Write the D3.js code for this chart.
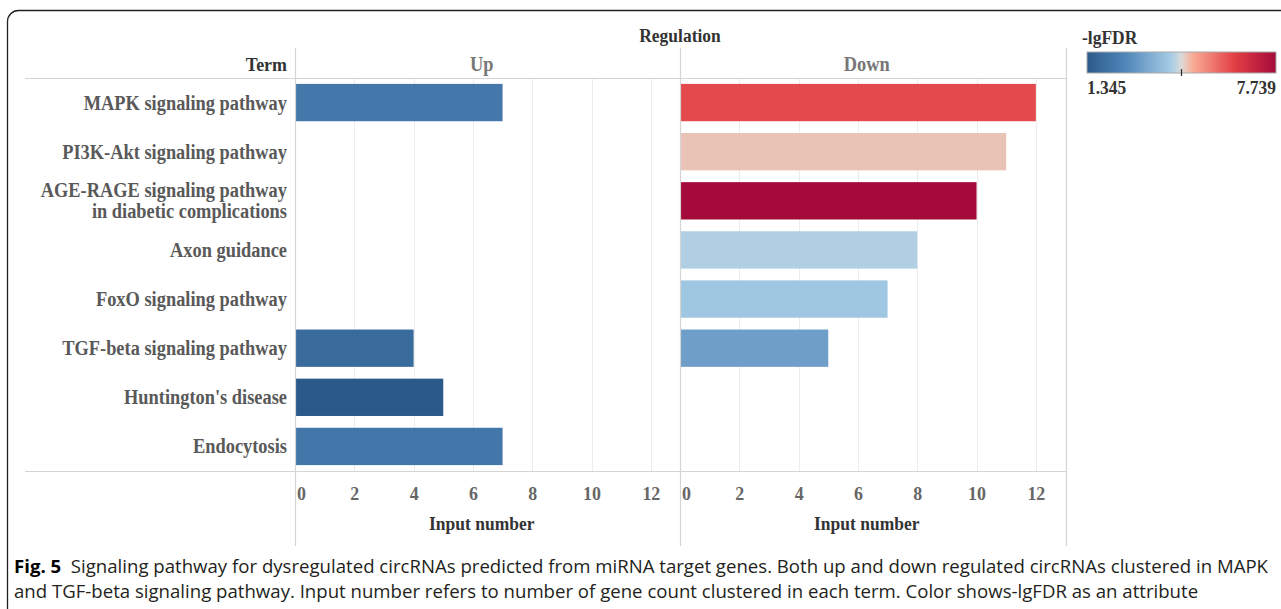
<!DOCTYPE html>
<html>
<head>
<meta charset="utf-8">
<script src="https://cdn.jsdelivr.net/npm/d3@7"></script>
<style>
  html, body { margin: 0; padding: 0; background: #fff; }
  svg { display: block; }
</style>
</head>
<body>
<svg id="chart" width="1281" height="609"></svg>
<script>
// ---------------- data ----------------
const terms = [
  "MAPK signaling pathway",
  "PI3K-Akt signaling pathway",
  "AGE-RAGE signaling pathway\nin diabetic complications",
  "Axon guidance",
  "FoxO signaling pathway",
  "TGF-beta signaling pathway",
  "Huntington's disease",
  "Endocytosis"
];
const panels = ["Up", "Down"];
const upCounts   = [7, null, null, null, null, 4, 5, 7];
const upFDR      = [2.24, null, null, null, null, 1.86, 1.345, 2.22];
const downCounts = [12, 11, 10, 8, 7, 5, null, null];
const downFDR    = [6.20, 4.73, 7.739, 4.28, 4.08, 3.20, null, null];
const xTicks = [0, 2, 4, 6, 8, 10, 12];
const fdrMin = 1.345, fdrMax = 7.739;
const legendTitle = "-lgFDR";
const captionBold = "Fig. 5";
const captionLine1 = "Signaling pathway for dysregulated circRNAs predicted from miRNA target genes. Both up and down regulated circRNAs clustered in MAPK";
const captionLine2 = "and TGF-beta signaling pathway. Input number refers to number of gene count clustered in each term. Color shows-lgFDR as an attribute";

// ---------------- setup ----------------
const svg = d3.select("#chart");
const serif = "'Liberation Serif', 'Times New Roman', serif";
const SX = 0.92; // horizontal condensation of the serif labels

function serifText(parent, x, y, str, opts) {
  const o = Object.assign({ size: 19, fill: "#333", anchor: "start", dy: null }, opts || {});
  const t = parent.append("text")
    .attr("transform", `translate(${x},${y}) scale(${SX},1)`)
    .attr("font-family", serif).attr("font-weight", "bold")
    .attr("font-size", o.size).attr("fill", o.fill)
    .attr("text-anchor", o.anchor).text(str);
  if (o.dy) t.attr("dy", o.dy);
  return t;
}

// colour ramp (diverging red-blue)
const rampT = [0, 0.2, 0.45, 0.5, 0.56, 0.78, 1];
const rampC = ["#2b5a8a", "#4f85b8", "#a8cde6", "#dcdad8", "#f9ab95", "#e23f45", "#a50b3a"];
const color = d3.scaleLinear()
  .domain(rampT.map(t => fdrMin + t * (fdrMax - fdrMin)))
  .range(rampC)
  .interpolate(d3.interpolateRgb);

// frame
svg.append("rect")
  .attr("x", 7.5).attr("y", 10.5).attr("width", 1320).attr("height", 640)
  .attr("rx", 11).attr("fill", "none").attr("stroke", "#222").attr("stroke-width", 1.3);

const rowTop = 78, rowBottom = 471;
const y = d3.scaleBand().domain(terms).range([rowTop, rowBottom])
  .paddingInner(0.24).paddingOuter(0.12);

const panelX = [295, 680];
const panelW = 385.5;
const xUp = d3.scaleLinear().domain([0, 13]).range([panelX[0], panelX[0] + panelW]);
const xDown = d3.scaleLinear().domain([0, 13]).range([panelX[1], panelX[1] + panelW]);
const xs = [xUp, xDown];
const counts = [upCounts, downCounts];
const fdrs = [upFDR, downFDR];

// grid lines
xs.forEach(x => {
  svg.append("g").selectAll("line").data(xTicks.slice(1)).join("line")
    .attr("x1", d => Math.round(x(d)) + 0.5).attr("x2", d => Math.round(x(d)) + 0.5)
    .attr("y1", rowTop).attr("y2", rowBottom)
    .attr("stroke", "#ececec").attr("stroke-width", 1);
});

// bars
xs.forEach((x, p) => {
  const data = terms.map((t, i) => ({ term: t, v: counts[p][i], f: fdrs[p][i] }))
    .filter(d => d.v != null);
  svg.append("g").selectAll("rect").data(data).join("rect")
    .attr("x", x(0)).attr("y", d => y(d.term))
    .attr("width", d => x(d.v) - x(0)).attr("height", y.bandwidth())
    .attr("fill", d => color(d.f));
});

// structural lines
const lineCol = "#d4d4d4";
svg.append("line").attr("x1", 25).attr("x2", 1066).attr("y1", rowTop + 0.5).attr("y2", rowTop + 0.5)
  .attr("stroke", lineCol).attr("stroke-width", 1.2);
svg.append("line").attr("x1", 25).attr("x2", 1066).attr("y1", rowBottom + 0.5).attr("y2", rowBottom + 0.5)
  .attr("stroke", lineCol).attr("stroke-width", 1.2);
[295, 680, 1066].forEach(xv => {
  svg.append("line").attr("x1", xv + 0.5).attr("x2", xv + 0.5).attr("y1", 48).attr("y2", 546)
    .attr("stroke", lineCol).attr("stroke-width", 1.2);
});

// row labels
const lab = svg.append("g");
terms.forEach(t => {
  const lines = t.split("\n");
  const cy = y(t) + y.bandwidth() / 2;
  const lh = 21;
  lines.forEach((l, k) => {
    serifText(lab, 287, cy + (k - (lines.length - 1) / 2) * lh, l,
      { size: 20, fill: "#595959", anchor: "end", dy: "0.35em" });
  });
});

// headers
serifText(svg, 680, 42, "Regulation", { size: 19, fill: "#333", anchor: "middle" });
serifText(svg, 287, 71, "Term", { size: 19.5, fill: "#333", anchor: "end" });
panels.forEach((p, i) => {
  serifText(svg, panelX[i] + panelW / 2 - 6, 71, p, { size: 20, fill: "#777", anchor: "middle" });
});

// x axes
xs.forEach((x, i) => {
  const g = svg.append("g").attr("transform", `translate(0,${rowBottom})`)
    .call(d3.axisBottom(x).tickValues(xTicks).tickSize(0).tickPadding(15));
  g.select(".domain").remove();
  g.selectAll(".tick text")
    .attr("font-family", serif).attr("font-weight", "bold")
    .attr("font-size", 19.5).attr("fill", "#666")
    .attr("transform", d => `translate(${d === 0 ? 6 : 0},0) scale(${SX},1)`);
  serifText(svg, panelX[i] + panelW / 2 - 6, 530, "Input number", { size: 19, fill: "#333", anchor: "middle" });
});

// legend
const lgX = 1087, lgY = 52, lgW = 189, lgH = 21;
serifText(svg, 1082, 44, legendTitle, { size: 19, fill: "#333" });
const grad = svg.append("defs").append("linearGradient").attr("id", "lg")
  .attr("x1", "0%").attr("x2", "100%").attr("y1", "0%").attr("y2", "0%");
d3.range(0, 1.0001, 0.02).forEach(t => {
  grad.append("stop").attr("offset", (t * 100) + "%")
    .attr("stop-color", color(fdrMin + t * (fdrMax - fdrMin)));
});
svg.append("rect").attr("x", lgX).attr("y", lgY).attr("width", lgW).attr("height", lgH)
  .attr("fill", "url(#lg)").attr("stroke", "#aaa").attr("stroke-width", 1);
const lgScale = d3.scaleLinear().domain([fdrMin, fdrMax]).range([lgX, lgX + lgW]);
const mid = (fdrMin + fdrMax) / 2;
svg.append("line").attr("x1", lgScale(mid)).attr("x2", lgScale(mid))
  .attr("y1", lgY + lgH - 4).attr("y2", lgY + lgH + 3).attr("stroke", "#333").attr("stroke-width", 1.3);
serifText(svg, lgX, 94, fdrMin.toFixed(3), { size: 19, fill: "#333" });
serifText(svg, lgX + lgW, 94, fdrMax.toFixed(3), { size: 19, fill: "#333", anchor: "end" });

// caption
const capFont = "'Open Sans', 'Noto Sans', sans-serif";
const c1 = svg.append("text").attr("x", 14).attr("y", 573)
  .attr("font-family", capFont).attr("font-size", 18).attr("fill", "#231f20");
c1.append("tspan").attr("font-weight", "bold").attr("fill", "#000").text(captionBold);
c1.append("tspan").text("\u00a0\u00a0" + captionLine1);
const c2 = svg.append("text").attr("x", 14).attr("y", 598)
  .attr("font-family", capFont).attr("font-size", 18).attr("fill", "#231f20")
  .text(captionLine2);
const w1 = c1.node().getComputedTextLength();
const k = 1254 / w1;
c1.attr("textLength", 1254).attr("lengthAdjust", "spacingAndGlyphs");
c2.attr("textLength", c2.node().getComputedTextLength() * k).attr("lengthAdjust", "spacingAndGlyphs");
</script>
</body>
</html>
